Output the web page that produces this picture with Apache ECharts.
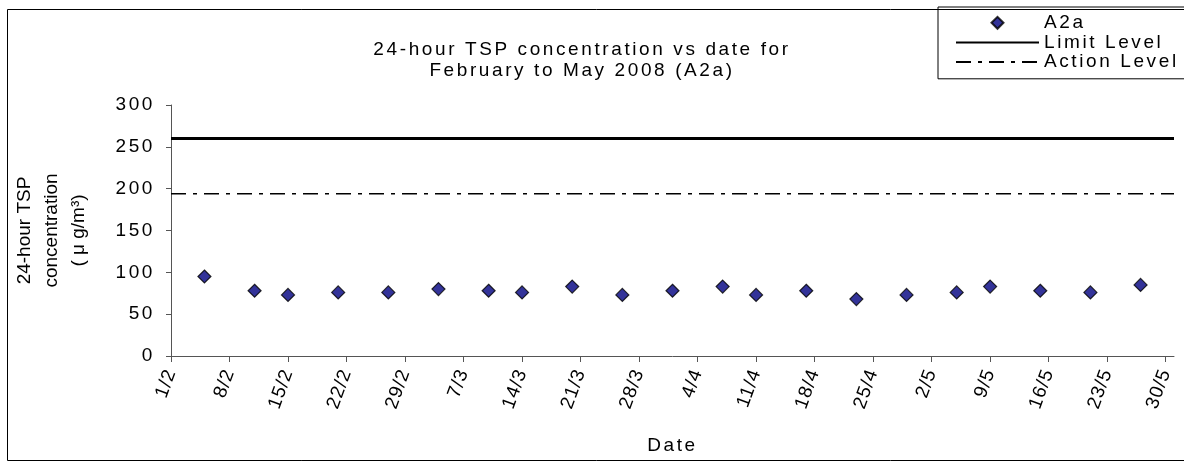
<!DOCTYPE html>
<html>
<head>
<meta charset="utf-8">
<script src="https://cdn.jsdelivr.net/npm/echarts@6/dist/echarts.min.js"></script>
<style>
html,body{margin:0;padding:0;background:#fff;}
#chart{width:1184px;height:464px;}
</style>
</head>
<body>
<div id="chart"></div>
<script>
// ---- data ----
const tickLabels = ['1/2','8/2','15/2','22/2','29/2','7/3','14/3','21/3','28/3','4/4','11/4','18/4','25/4','2/5','9/5','16/5','23/5','30/5'];
const sampleDates = ['5/2','11/2','15/2','21/2','27/2','4/3','10/3','14/3','20/3','26/3','1/4','7/4','11/4','17/4','23/4','29/4','5/5','9/5','15/5','21/5','27/5'];
const a2aValues = [95,78,73,76,76,80,78,76,83,73,78,83,73,78,68,73,76,83,78,76,85];
const limitLevel = 260;
const actionLevel = 194;
const axisStart = '1/2';
const axisEnd = '31/5';
const yearOfData = 2008;

// wide-set lettering like the original rendering (horizontal text only)
(function(){
  const LS = 2.6;
  const proto = window.CanvasRenderingContext2D && CanvasRenderingContext2D.prototype;
  if (!proto || !('letterSpacing' in proto)) return;
  const of = proto.fillText, om = proto.measureText;
  proto.fillText = function(t, x, y, m){
    let c = 1;
    try { const tr = this.getTransform(); const h = Math.hypot(tr.a, tr.b); c = h ? Math.abs(tr.a)/h : 1; } catch(e){}
    this.letterSpacing = (LS*c).toFixed(2) + 'px';
    return m === undefined ? of.call(this, t, x, y) : of.call(this, t, x, y, m);
  };
  proto.measureText = function(t){ this.letterSpacing = LS + 'px'; return om.call(this, t); };
})();

function dayIndex(s){
  const p = s.split('/');
  const t = Date.UTC(yearOfData, +p[1]-1, +p[0]);
  const p0 = axisStart.split('/');
  const t0 = Date.UTC(yearOfData, +p0[1]-1, +p0[0]);
  return Math.round((t - t0)/86400000);
}
const tickValues = tickLabels.map(dayIndex);
const xMax = dayIndex(axisEnd);
const scatterData = sampleDates.map((d,i)=>[dayIndex(d), a2aValues[i]]);

const FONT = 'Liberation Sans, Arial, sans-serif';
const chart = echarts.init(document.getElementById('chart'), null, {renderer:'canvas'});
chart.setOption({
  animation:false,
  backgroundColor:'#fff',
  textStyle:{fontFamily:FONT,color:'#000'},
  graphic:[{
    type:'rect', left:5, top:7, silent:true,
    shape:{width:1200,height:451},
    style:{fill:'none',stroke:'#000',lineWidth:1}
  }],
  title:{
    text:'24-hour TSP concentration vs date for\nFebruary to May 2008 (A2a)',
    left:577, top:34, textAlign:'center',
    textStyle:{fontFamily:FONT,fontSize:19,fontWeight:'normal',color:'#000',lineHeight:21}
  },
  legend:{
    orient:'vertical', left:938, top:7,
    padding:[5,80,6,17],
    borderColor:'#000', borderWidth:1,
    itemWidth:83, itemHeight:14, itemGap:-2,
    textStyle:{fontFamily:FONT,fontSize:19,color:'#000'},
    data:[
      {name:'A2a', icon:'path://M0,0L0,0M83,14L83,14M35.5,7L41.5,1L47.5,7L41.5,13Z'},
      {name:'Limit Level', itemStyle:{opacity:0}},
      {name:'Action Level', itemStyle:{opacity:0}}
    ]
  },
  grid:{left:171, right:10, top:105, bottom:108, outerBoundsMode:'none'},
  xAxis:{
    type:'value', min:0, max:xMax,
    name:'Date', nameLocation:'middle', nameGap:79,
    nameTextStyle:{fontFamily:FONT,fontSize:19,color:'#000'},
    splitLine:{show:false},
    axisLine:{show:true,lineStyle:{color:'#555',width:1}},
    axisTick:{show:true,length:6,lineStyle:{color:'#555'},customValues:tickValues},
    axisLabel:{
      customValues:tickValues, rotate:70, margin:14,
      fontFamily:FONT, fontSize:19, color:'#000',
      formatter:function(v){const i=tickValues.indexOf(v);return i>=0?tickLabels[i]:'';}
    }
  },
  yAxis:{
    type:'value', min:0, max:300, interval:50,
    name:'24-hour TSP\nconcentration\n( \u03bc g/m\u00b3)',
    nameLocation:'middle', nameRotate:90, nameGap:79,
    nameTextStyle:{fontFamily:FONT,fontSize:19,color:'#000',lineHeight:27,align:'center'},
    splitLine:{show:false},
    axisLine:{show:true,lineStyle:{color:'#555',width:1}},
    axisTick:{show:true,length:5,lineStyle:{color:'#555'}},
    axisLabel:{fontFamily:FONT,fontSize:19,color:'#000',margin:16}
  },
  series:[
    {
      name:'A2a', type:'scatter', symbol:'diamond', symbolSize:13,
      itemStyle:{color:'#000080',borderColor:'#000',borderWidth:1.2},
      data:scatterData, z:5
    },
    {
      name:'Limit Level', type:'line', symbol:'none',
      itemStyle:{color:'#000'},
      lineStyle:{color:'#000',width:3,type:'solid'},
      data:[[0,limitLevel],[xMax,limitLevel]]
    },
    {
      name:'Action Level', type:'line', symbol:'none',
      itemStyle:{color:'#000'},
      lineStyle:{color:'#000',width:1.5,type:[15,7,4,7]},
      data:[[0,actionLevel],[xMax,actionLevel]]
    }
  ]
});
</script>
</body>
</html>
